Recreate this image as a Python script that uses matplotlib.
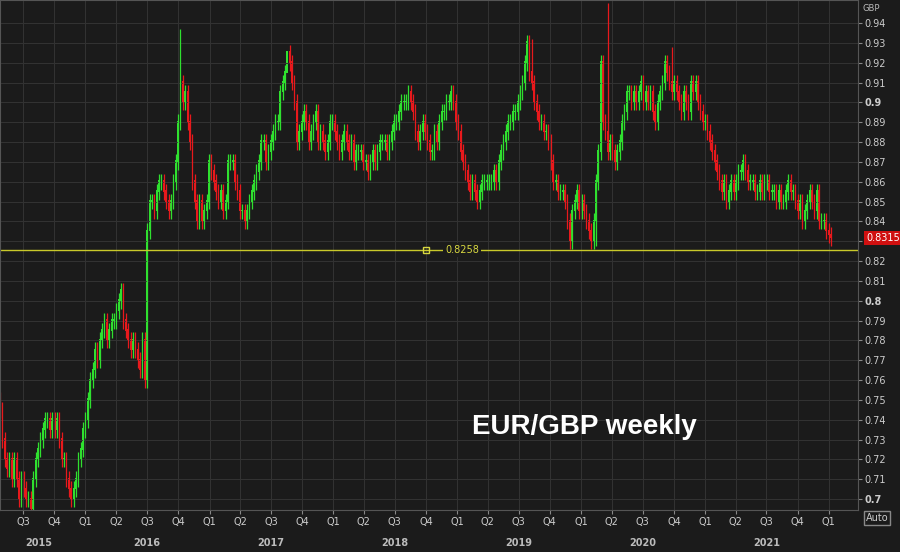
import pandas as pd
import matplotlib
matplotlib.use('Agg')
import matplotlib.pyplot as plt
import matplotlib.dates as mdates
import numpy as np

# weekly closes, EUR/GBP, from late April 2015 (one row per quarter)
closes = [
    0.745, 0.73, 0.72, 0.715, 0.72, 0.71, 0.72, 0.71, 0.70, 0.71,
    0.705, 0.70, 0.70, 0.695, 0.71, 0.72, 0.725, 0.73, 0.735, 0.74, 0.74, 0.735, 0.74,
    0.735, 0.74, 0.73, 0.72, 0.72, 0.71, 0.705, 0.70, 0.705, 0.71, 0.72, 0.725, 0.735,
    0.74, 0.75, 0.76, 0.765, 0.775, 0.77, 0.78, 0.785, 0.79, 0.78, 0.785, 0.79, 0.79,
    0.795, 0.80, 0.805, 0.79, 0.785, 0.78, 0.775, 0.78, 0.775, 0.77, 0.765, 0.78, 0.76,
    0.835, 0.85, 0.85, 0.845, 0.855, 0.86, 0.86, 0.855, 0.85, 0.845, 0.85, 0.86, 0.87,
    0.89, 0.91, 0.90, 0.905, 0.89, 0.88, 0.86, 0.85, 0.84, 0.85, 0.84, 0.845, 0.85,
    0.87, 0.865, 0.86, 0.855, 0.85, 0.855, 0.845, 0.85, 0.87, 0.87, 0.87, 0.86, 0.855,
    0.845, 0.845, 0.84, 0.845, 0.85, 0.855, 0.86, 0.865, 0.87, 0.88, 0.88, 0.87, 0.875,
    0.88, 0.885, 0.89, 0.89, 0.905, 0.91, 0.915, 0.925, 0.92, 0.91, 0.90, 0.88, 0.885,
    0.89, 0.895, 0.89, 0.88, 0.885, 0.89, 0.895, 0.88, 0.885, 0.88, 0.875, 0.88, 0.89,
    0.89, 0.885, 0.88, 0.875, 0.88, 0.885, 0.88, 0.875, 0.88, 0.87, 0.875, 0.875, 0.875,
    0.87, 0.87, 0.865, 0.87, 0.875, 0.87, 0.875, 0.88, 0.88, 0.88, 0.875, 0.88, 0.885,
    0.89, 0.89, 0.895, 0.90, 0.90, 0.90, 0.905, 0.90, 0.895, 0.885, 0.88, 0.885, 0.89,
    0.885, 0.88, 0.875, 0.875, 0.885, 0.88, 0.89, 0.895, 0.895, 0.90, 0.90, 0.905, 0.90,
    0.89, 0.885, 0.875, 0.87, 0.865, 0.86, 0.855, 0.86, 0.855, 0.85, 0.855, 0.86, 0.86,
    0.86, 0.86, 0.86, 0.865, 0.86, 0.87, 0.875, 0.88, 0.885, 0.89, 0.89, 0.895, 0.895,
    0.90, 0.905, 0.91, 0.92, 0.93, 0.915, 0.91, 0.90, 0.895, 0.89, 0.89, 0.885, 0.885,
    0.88, 0.87, 0.86, 0.86, 0.855, 0.855, 0.855, 0.85, 0.84, 0.83, 0.845, 0.85, 0.855,
    0.845, 0.85, 0.845, 0.84, 0.835, 0.83, 0.84, 0.86, 0.875, 0.92, 0.89, 0.885, 0.875,
    0.88, 0.875, 0.87, 0.875, 0.88, 0.89, 0.895, 0.905, 0.905, 0.90, 0.905, 0.90, 0.905,
    0.91, 0.90, 0.905, 0.90, 0.905, 0.895, 0.89, 0.90, 0.905, 0.91, 0.92, 0.915, 0.91,
    0.905, 0.91, 0.905, 0.90, 0.895, 0.905, 0.90, 0.895, 0.91, 0.905, 0.91, 0.90, 0.895,
    0.89, 0.89, 0.885, 0.88, 0.875, 0.87, 0.865, 0.86, 0.855, 0.86, 0.85, 0.855, 0.86,
    0.855, 0.86, 0.865, 0.865, 0.87, 0.865, 0.86, 0.86, 0.86, 0.855, 0.855, 0.86, 0.855,
    0.86, 0.86, 0.855, 0.855, 0.855, 0.85, 0.855, 0.85, 0.85, 0.855, 0.86, 0.855, 0.855,
    0.85, 0.845, 0.85, 0.84, 0.845, 0.85, 0.855, 0.85, 0.845, 0.855, 0.84, 0.84, 0.84,
    0.835, 0.833, 0.8315,
]
first_open = 0.75
# notable wicks: week index -> high (or low if below the candle)
spikes = {76: 0.937, 121: 0.929, 224: 0.932, 251: 0.8277, 256: 0.95, 283: 0.928}
support = 0.8258
last_price = 0.8315

dates = pd.date_range('2015-04-24', periods=len(closes), freq='7D')
c = np.array(closes)
o = np.concatenate([[first_open], c[:-1]])
hi = np.maximum(o, c) + 0.004
lo = np.minimum(o, c) - 0.004
for k, v in spikes.items():
    if v > hi[k]:
        hi[k] = v
    else:
        lo[k] = v

bg = '#1b1b1b'
fig = plt.figure(figsize=(9, 5.52), dpi=100, facecolor=bg)
ax = fig.add_axes([0.0, 0.076, 0.953, 0.924], facecolor=bg)

xd = mdates.date2num(dates)
up = c >= o
col = np.where(up, '#2fe02f', '#e8191c')
ax.vlines(xd, lo, hi, colors=col, linewidth=0.9)
ax.bar(xd, np.abs(c - o) + 0.0008, bottom=np.minimum(o, c), width=4.5, color=col, linewidth=0)

ax.axhline(support, color='#c9c92a', linewidth=1)
mid = mdates.date2num(pd.Timestamp('2019-01-15'))
ax.text(mid, support, f'{support:.4f}', color='#d8d840', fontsize=7, ha='center', va='center',
        bbox=dict(facecolor=bg, edgecolor='none', pad=1.5))
ax.plot(mdates.date2num(pd.Timestamp('2018-10-01')), support, 's', mfc='none', mec='#d8d840', ms=5)

ax.set_xlim(mdates.date2num(pd.Timestamp('2015-04-24')), mdates.date2num(pd.Timestamp('2022-03-27')))
ax.set_ylim(0.6945, 0.9516)

yt = np.round(np.arange(0.70, 0.945, 0.01), 2)
ax.yaxis.tick_right()
ax.set_yticks(yt)
# the 0.83 label sits under the last-price box
ax.set_yticklabels(['' if abs(v - 0.83) < 1e-6 else f'{v:g}' for v in yt], fontsize=7, color='#cccccc')
for lab, v in zip(ax.get_yticklabels(), yt):
    if abs(v * 10 - round(v * 10)) < 1e-6:
        lab.set_fontweight('bold')
ax.tick_params(axis='y', length=3, color='#888888', pad=2)

qdates = pd.date_range('2015-07-01', '2022-01-01', freq='QS')
ax.set_xticks(mdates.date2num(qdates))
ax.set_xticklabels([f'Q{d.quarter}' for d in qdates], fontsize=7, color='#cccccc')
ax.tick_params(axis='x', length=3, color='#888888', pad=2)
years = [2015, 2016, 2017, 2018, 2019, 2020, 2021]
for y in years:
    d = pd.Timestamp(f'{y}-08-15') if y == 2015 else pd.Timestamp(f'{y}-07-01')
    ax.text(mdates.date2num(d), -0.065, str(y), transform=ax.get_xaxis_transform(),
            fontsize=7, fontweight='bold', color='#bbbbbb', ha='center', va='center')

ax.grid(True, color='#333333', linewidth=0.7)
for s in ax.spines.values():
    s.set_color('#555555')

ax.text(1.01, last_price, f'{last_price:.4f}', transform=ax.get_yaxis_transform(), fontsize=7,
        color='white', va='center', ha='left',
        bbox=dict(facecolor='#d01010', edgecolor='none', pad=1.5))
fig.text(0.958, 0.992, 'GBP', fontsize=6, color='#bbbbbb', va='top')
fig.text(0.962, 0.062, 'Auto', fontsize=7, color='#cccccc', va='center',
         bbox=dict(facecolor=bg, edgecolor='#888888', pad=1.5))
ax.text(0.55, 0.15, 'EUR/GBP weekly', transform=ax.transAxes, fontsize=20, fontweight='bold',
        color='white', family='Liberation Sans')

fig.savefig('out.png', dpi=100, facecolor=bg)
